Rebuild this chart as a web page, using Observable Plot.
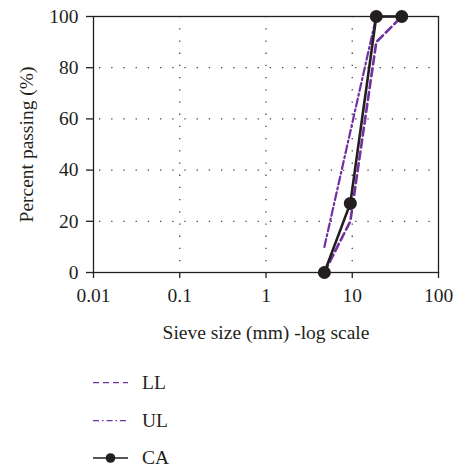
<!DOCTYPE html>
<html>
<head>
<meta charset="utf-8">
<script src="https://cdn.jsdelivr.net/npm/d3@7"></script>
<script src="https://cdn.jsdelivr.net/npm/@observablehq/plot@0.6"></script>
<style>
  html, body { margin: 0; padding: 0; background: #fff; }
  #chart svg { display: block; }
</style>
</head>
<body>
<div id="chart"></div>
<script>
// Data
const sieveSizes = [4.75, 9.5, 19, 37.5];       // mm
const llPassing  = [0, 20, 90, 100];            // lower limit (%)
const ulPassing  = [10, 55, 100, 100];          // upper limit (%)
const caPassing  = [0, 27, 100, 100];           // coarse aggregate (%)
const xTicks = [0.01, 0.1, 1, 10, 100];
const yTicks = [0, 20, 40, 60, 80, 100];
const xGrid = [0.1, 1, 10];
const yGrid = [20, 40, 60, 80];
const seriesNames = ["LL", "UL", "CA"];

const purple = "#7030a0";
const ink = "#231f20";
const font = "'Liberation Serif', serif";

const ll = sieveSizes.map((s, i) => ({size: s, pass: llPassing[i]}));
const ul = sieveSizes.map((s, i) => ({size: s, pass: ulPassing[i]}));
const ca = sieveSizes.map((s, i) => ({size: s, pass: caPassing[i]}));

const chart = Plot.plot({
  width: 455,
  height: 350,
  marginLeft: 93,
  marginRight: 17,
  marginTop: 16,
  marginBottom: 78,
  style: {fontFamily: font, fontSize: "19.5px", color: ink, background: "#fff"},
  x: {type: "log", domain: [0.01, 100]},
  y: {domain: [0, 100]},
  marks: [
    Plot.ruleX(xGrid, {stroke: "#444", strokeWidth: 1.3, strokeDasharray: "1.3,10.9"}),
    Plot.ruleY(yGrid, {stroke: "#444", strokeWidth: 1.3, strokeDasharray: "1.3,10.9", strokeDashoffset: -6}),
    Plot.frame({stroke: ink, strokeWidth: 1.3}),
    Plot.axisX({ticks: xTicks, tickFormat: d => String(d), tickSize: 6, tickPadding: 10, label: null, stroke: ink, strokeWidth: 1.3}),
    Plot.axisY({ticks: yTicks, tickSize: 7, tickPadding: 8, label: null, stroke: ink, strokeWidth: 1.3}),
    Plot.text(["Percent passing (%)"], {frameAnchor: "left", textAnchor: "middle", lineAnchor: "middle", dx: -67, rotate: -90, fontSize: 19.5, fill: ink}),
    Plot.text(["Sieve size (mm) -log scale"], {frameAnchor: "bottom", textAnchor: "middle", lineAnchor: "middle", dy: 60, fontSize: 19.5, fill: ink}),
    Plot.line(ll, {x: "size", y: "pass", stroke: purple, strokeWidth: 2.6, strokeDasharray: "8,4"}),
    Plot.line(ul, {x: "size", y: "pass", stroke: purple, strokeWidth: 2.2, strokeDasharray: "8,3,2,3"}),
    Plot.line(ca, {x: "size", y: "pass", stroke: ink, strokeWidth: 2.6}),
    Plot.dot(ca, {x: "size", y: "pass", r: 6.5, fill: ink, stroke: "none"})
  ]
});
document.getElementById("chart").appendChild(chart);

// Legend below the chart
const legend = d3.select("#chart").append("svg")
  .attr("width", 455).attr("height", 122)
  .style("display", "block")
  .style("font-family", font);
const rowY = [32.7, 70.7, 108];
const styles = [
  {stroke: purple, dash: "6,4", dot: false},
  {stroke: purple, dash: "6,3,1.5,3", dot: false},
  {stroke: ink, dash: null, dot: true}
];
seriesNames.forEach((name, i) => {
  const g = legend.append("g").attr("transform", `translate(0,${rowY[i]})`);
  g.append("line").attr("x1", 93).attr("x2", 128).attr("y1", 0).attr("y2", 0)
    .attr("stroke", styles[i].stroke).attr("stroke-width", styles[i].dot ? 1.6 : 1.3)
    .attr("stroke-dasharray", styles[i].dash);
  if (styles[i].dot) g.append("circle").attr("cx", 110.5).attr("cy", 0).attr("r", 4.8).attr("fill", ink);
  g.append("text").attr("x", 142).attr("y", 0).attr("dy", "0.32em")
    .attr("font-size", 19.5).attr("fill", ink).text(name);
});
</script>
</body>
</html>
